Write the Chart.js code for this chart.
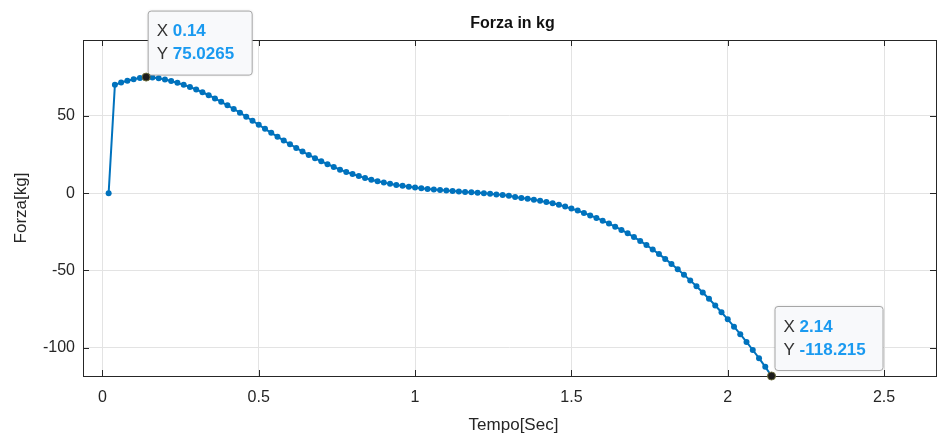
<!DOCTYPE html>
<html>
<head>
<meta charset="utf-8">
<script src="https://cdn.jsdelivr.net/npm/chart.js@4.4.1/dist/chart.umd.min.js"></script>
<style>
  html, body { margin: 0; padding: 0; background: #fff; }
  #wrap { width: 940px; height: 436px; }
</style>
</head>
<body>
<div id="wrap"><canvas id="c" width="940" height="436"></canvas></div>
<script>
'use strict'

// tempo in secondi
const tempo = [
  0.02, 0.04, 0.06, 0.08, 0.10, 0.12, 0.14, 0.16, 0.18, 0.20,
  0.22, 0.24, 0.26, 0.28, 0.30, 0.32, 0.34, 0.36, 0.38, 0.40,
  0.42, 0.44, 0.46, 0.48, 0.50, 0.52, 0.54, 0.56, 0.58, 0.60,
  0.62, 0.64, 0.66, 0.68, 0.70, 0.72, 0.74, 0.76, 0.78, 0.80,
  0.82, 0.84, 0.86, 0.88, 0.90, 0.92, 0.94, 0.96, 0.98, 1.00,
  1.02, 1.04, 1.06, 1.08, 1.10, 1.12, 1.14, 1.16, 1.18, 1.20,
  1.22, 1.24, 1.26, 1.28, 1.30, 1.32, 1.34, 1.36, 1.38, 1.40,
  1.42, 1.44, 1.46, 1.48, 1.50, 1.52, 1.54, 1.56, 1.58, 1.60,
  1.62, 1.64, 1.66, 1.68, 1.70, 1.72, 1.74, 1.76, 1.78, 1.80,
  1.82, 1.84, 1.86, 1.88, 1.90, 1.92, 1.94, 1.96, 1.98, 2.00,
  2.02, 2.04, 2.06, 2.08, 2.10, 2.12, 2.14
]

// forza in kg
const forza = [
  0, 70.0, 71.5, 72.6, 73.6, 74.5, 75.0265, 74.8, 74.2, 73.4,
  72.5, 71.3, 70.0, 68.6, 67.0, 65.2, 63.3, 61.2, 59.0, 56.8,
  54.4, 52.0, 49.4, 46.8, 44.2, 41.6, 39.0, 36.5, 34.0, 31.6,
  29.2, 26.9, 24.7, 22.6, 20.6, 18.7, 16.9, 15.2, 13.7, 12.3,
  11.0, 9.8, 8.7, 7.7, 6.8, 6.0, 5.3, 4.7, 4.1, 3.6,
  3.1, 2.7, 2.3, 2.0, 1.7, 1.4, 1.1, 0.8, 0.5, 0.2,
  -0.1, -0.4, -0.8, -1.2, -1.7, -2.5, -3.1, -3.7, -4.3, -5.0,
  -5.8, -6.6, -7.5, -8.7, -10.0, -11.3, -12.8, -14.4, -16.0, -17.8,
  -19.7, -21.7, -23.8, -26.0, -28.4, -30.9, -33.6, -36.4, -39.4, -42.5,
  -45.8, -49.2, -52.7, -56.4, -60.2, -64.2, -68.3, -72.6, -77.0, -81.6,
  -86.3, -91.2, -96.2, -101.4, -106.7, -112.3, -118.215
]

// datatip (indici dei punti evidenziati)
const tipIndex = [6, 106]
const tipLabelX = ['0.14', '2.14']
const tipLabelY = ['75.0265', '-118.215']

const FONT = '"Liberation Sans", Arial, Helvetica, sans-serif'
const AX = '#262626'

const points = tempo.map((t, i) => ({ x: t, y: forza[i] }))

// disegna titolo, bordo, tacche e datatip stile matlab
const matlabPlugin = {
  id: 'matlab',
  afterDraw(chart) {
    const ctx = chart.ctx
    const a = chart.chartArea
    const xs = chart.scales.x
    const ys = chart.scales.y
    ctx.save()

    // bordo assi
    ctx.strokeStyle = AX
    ctx.lineWidth = 1
    ctx.strokeRect(Math.round(a.left) + 0.5, Math.round(a.top) + 0.5,
      Math.round(a.right - a.left), Math.round(a.bottom - a.top))

    // tacche verso l'interno
    ctx.beginPath()
    xs.ticks.forEach(t => {
      const x = Math.round(xs.getPixelForValue(t.value)) + 0.5
      ctx.moveTo(x, a.bottom); ctx.lineTo(x, a.bottom - 6)
      ctx.moveTo(x, a.top); ctx.lineTo(x, a.top + 6)
    })
    ys.ticks.forEach(t => {
      const y = Math.round(ys.getPixelForValue(t.value)) + 0.5
      ctx.moveTo(a.left, y); ctx.lineTo(a.left + 6, y)
      ctx.moveTo(a.right, y); ctx.lineTo(a.right - 6, y)
    })
    ctx.stroke()

    // titolo
    ctx.fillStyle = '#111'
    ctx.font = 'bold 16px ' + FONT
    ctx.textAlign = 'center'
    ctx.textBaseline = 'middle'
    ctx.fillText('Forza in kg', (a.left + a.right) / 2 + 3, 24)

    // etichette assi
    ctx.fillStyle = AX
    ctx.font = '17px ' + FONT
    ctx.fillText('Tempo[Sec]', (a.left + a.right) / 2 + 4, 425)
    ctx.save()
    ctx.translate(21, (a.top + a.bottom) / 2)
    ctx.rotate(-Math.PI / 2)
    ctx.fillText('Forza[kg]', 0, 0)
    ctx.restore()

    // datatip
    tipIndex.forEach((idx, k) => {
      const px = xs.getPixelForValue(tempo[idx])
      const py = ys.getPixelForValue(forza[idx])

      const w = k === 0 ? 104 : 108
      const h = 64
      const bx = px + (k === 0 ? 1.5 : 3)
      const by = py - (k === 0 ? 2.5 : 6) - h

      ctx.shadowColor = 'rgba(0,0,0,0.15)'
      ctx.shadowBlur = 3
      ctx.fillStyle = '#f8f9fb'
      ctx.beginPath()
      ctx.roundRect(bx + 0.5, by + 0.5, w, h, 3)
      ctx.fill()
      ctx.shadowColor = 'transparent'
      ctx.strokeStyle = '#a6a6a6'
      ctx.lineWidth = 1
      ctx.stroke()

      ctx.textAlign = 'left'
      ctx.textBaseline = 'middle'
      const rows = [['X', tipLabelX[k]], ['Y', tipLabelY[k]]]
      rows.forEach((r, j) => {
        const ty = by + 21 + j * 23
        ctx.font = '17px ' + FONT
        ctx.fillStyle = '#333'
        ctx.fillText(r[0], bx + 9, ty)
        const lw = ctx.measureText(r[0] + ' ').width
        ctx.font = 'bold 17px ' + FONT
        ctx.fillStyle = '#1a9af0'
        ctx.fillText(r[1], bx + 9 + lw, ty)
      })

      // punto evidenziato
      ctx.beginPath()
      ctx.arc(px, py, 4, 0, Math.PI * 2)
      ctx.fillStyle = '#1c1c1c'
      ctx.fill()
      ctx.strokeStyle = '#6b6b3a'
      ctx.lineWidth = 1
      ctx.stroke()
    })

    ctx.restore()
  }
}

const chart = new Chart(document.getElementById('c'), {
  type: 'line',
  data: {
    datasets: [{
      data: points,
      borderColor: '#0072BD',
      backgroundColor: '#0072BD',
      borderWidth: 2,
      pointRadius: 3,
      pointBorderWidth: 0,
      pointBackgroundColor: '#0072BD',
      tension: 0,
      fill: false
    }]
  },
  options: {
    responsive: false,
    animation: false,
    events: [],
    layout: { padding: { top: 40, right: 1, left: 0, bottom: 0 } },
    plugins: {
      legend: { display: false },
      tooltip: { enabled: false },
      title: { display: false }
    },
    scales: {
      x: {
        type: 'linear',
        min: -0.062,
        max: 2.666,
        afterFit: s => { s.height = 60 },
        border: { display: false },
        grid: { color: '#e3e3e3', drawTicks: false, lineWidth: 1 },
        ticks: {
          stepSize: 0.5,
          includeBounds: false,
          autoSkip: false,
          maxRotation: 0,
          padding: 12,
          color: AX,
          font: { family: FONT, size: 16 },
          callback: v => String(Number(v.toFixed(2)))
        }
      },
      y: {
        type: 'linear',
        min: -118.215,
        max: 99,
        afterFit: s => { s.width = 83 },
        border: { display: false },
        grid: { color: '#e3e3e3', drawTicks: false, lineWidth: 1 },
        ticks: {
          stepSize: 50,
          includeBounds: false,
          autoSkip: false,
          padding: 8,
          color: AX,
          font: { family: FONT, size: 16 },
          callback: v => String(v)
        }
      }
    }
  },
  plugins: [matlabPlugin]
})
</script>
</body>
</html>
